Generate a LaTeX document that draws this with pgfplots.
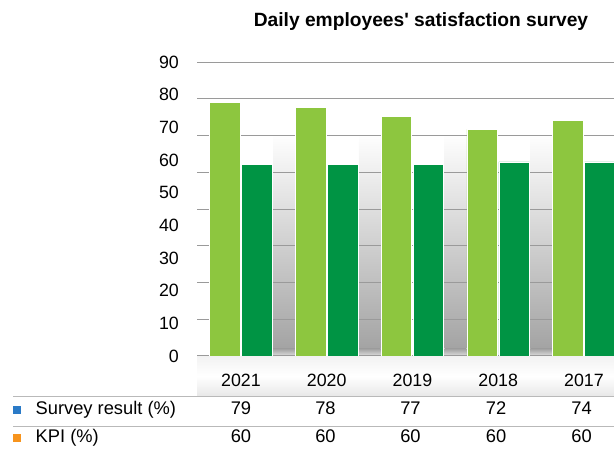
\documentclass[border=0pt]{standalone}
\usepackage{pgfplots}
\pgfplotsset{compat=1.18}
\usepackage{fontspec}
\setmainfont{Liberation Sans}
\definecolor{lightgreen}{HTML}{8DC63F}
\definecolor{darkgreen}{HTML}{009444}
\definecolor{gridgray}{HTML}{9A9A9A}
\definecolor{legblue}{HTML}{2A7AC7}
\definecolor{legorange}{HTML}{F7941D}

\begin{document}
\begin{tikzpicture}[x=1pt,y=1pt]
\useasboundingbox (0,0) rectangle (614,453);
% soft shadows between the groups and under the axis
\foreach \c in {241,326.75,412.5,498.25}{
  \shade[top color=white, bottom color=gray!72] (\c+32,104) rectangle (\c+53.75,320);
  \shade[top color=gray!72, bottom color=gray!25] (\c+32,97) rectangle (\c+53.75,104);
}
\shade[top color=gray!10, bottom color=gray!18, middle color=white] (197,57) rectangle (614,97);

\begin{axis}[
    at={(197pt,97pt)}, anchor=south west,
    scale only axis, width=417pt, height=294pt,
    xmin=-0.513, xmax=4.35, ymin=0, ymax=90,
    axis line style={draw=none},
    major tick style={draw=none},
    ytick={0,10,...,90},
    xtick={0,...,4},
    xticklabels={2021,2020,2019,2018,2017},
    extra y ticks={0,11.25,22.5,33.75,45,56.25,67.5,78.75,90},
    extra y tick labels={},
    extra y tick style={grid=major, major grid style={gridgray, line width=1pt}},
    ybar=1.5pt, bar width=30.5pt,
    tick label style={font=\fontsize{17.8}{21}\selectfont,
      /pgf/number format/assume math mode=true},
    yticklabel style={inner sep=0pt, xshift=-18pt},
    xticklabel style={inner sep=0pt, yshift=-13.3pt},
  ]
  % survey result
  \addplot[fill=lightgreen, draw=white, line width=0.6pt]
    coordinates {(0,77.7) (1,76.1) (2,73.4) (3,69.4) (4,72.2)};
  % KPI
  \addplot[fill=darkgreen, draw=white, line width=0.6pt]
    coordinates {(0,58.7) (1,58.7) (2,58.7) (3,59.4) (4,59.4)};
\end{axis}

\node[anchor=base, inner sep=0, font=\bfseries\fontsize{19.2}{22}\selectfont]
  at (421,426) {Daily employees\textquotesingle{} satisfaction survey};

% data table under the chart
\draw[gray!55, line width=0.9pt] (13,57) -- (614,57);
\draw[gray!55, line width=0.9pt] (13,27) -- (614,27);
\fill[legblue] (12.7,38.9) rectangle (21.2,47.4);
\fill[legorange] (12.7,10.9) rectangle (21.2,19.4);
\begin{scope}[font=\fontsize{18.3}{21}\selectfont]
  \node[anchor=base west, inner sep=0] at (35.5,38.7) {Survey result (\%)};
  \node[anchor=base west, inner sep=0] at (35.5,10.7) {KPI (\%)};
  \foreach \x/\s/\k in {241/79/60, 325.5/78/60, 410.5/77/60, 496/72/60, 581.5/74/60}{
    \node[anchor=base, inner sep=0] at (\x,38.7) {\s};
    \node[anchor=base, inner sep=0] at (\x,10.7) {\k};
  }
\end{scope}
\end{tikzpicture}
\end{document}
